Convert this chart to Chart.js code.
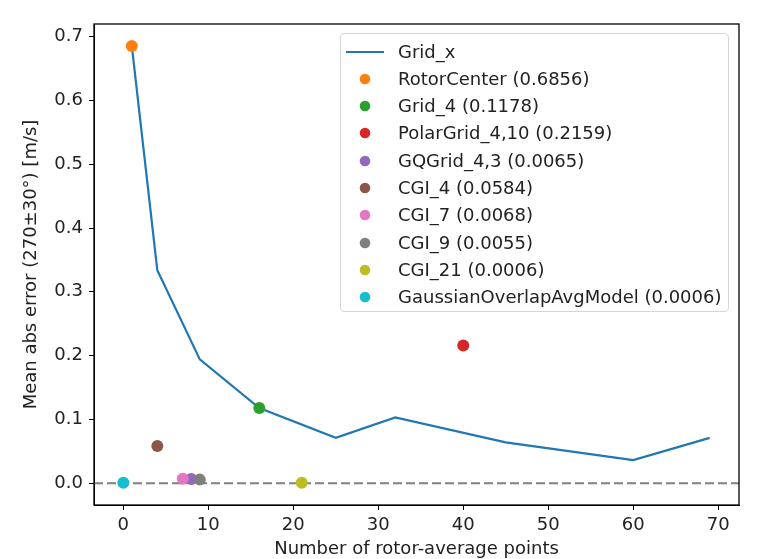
<!DOCTYPE html>
<html>
<head>
<meta charset="utf-8">
<script src="https://cdn.jsdelivr.net/npm/chart.js@4"></script>
<style>
  html, body { margin: 0; padding: 0; background: #fff; }
  #wrap { position: relative; width: 784px; height: 559px; }
  #legend {
    position: absolute; left: 340px; top: 33px; width: 389px; height: 279px;
    box-sizing: border-box; border: 1px solid #d6d6d6; border-radius: 4px;
    background: rgba(255,255,255,0.8);
    font-family: "DejaVu Sans", sans-serif; font-size: 18px; color: #222;
  }
  .row { position: absolute; left: 0; height: 22px; line-height: 22px; white-space: nowrap; }
  .sym { position: absolute; left: 4px; top: 1px; width: 40px; height: 20px; }
  .txt { position: absolute; left: 57px; top: 0; }
</style>
</head>
<body>
<div id="wrap">
  <canvas id="c" width="784" height="559"></canvas>
  <div id="legend"></div>
</div>
<script>
// Grid_x curve
const gridX = [1, 4, 9, 16, 25, 32, 45, 60, 69];
const gridY = [0.6856, 0.334, 0.194, 0.1178, 0.071, 0.103, 0.064, 0.036, 0.071];

// single-point models
const modelNames = ["RotorCenter (0.6856)", "Grid_4 (0.1178)", "PolarGrid_4,10 (0.2159)",
    "GQGrid_4,3 (0.0065)", "CGI_4 (0.0584)", "CGI_7 (0.0068)", "CGI_9 (0.0055)",
    "CGI_21 (0.0006)", "GaussianOverlapAvgModel (0.0006)"];
const modelX = [1, 16, 40, 8, 4, 7, 9, 21, 0];
const modelY = [0.6856, 0.1178, 0.2159, 0.0065, 0.0584, 0.0068, 0.0055, 0.0006, 0.0006];
const modelColors = ["#ff7f0e", "#2ca02c", "#d62728", "#9467bd", "#8c564b",
    "#e377c2", "#7f7f7f", "#bcbd22", "#17becf"];

const xTicks = [0, 10, 20, 30, 40, 50, 60, 70];
const yTicks = [0.0, 0.1, 0.2, 0.3, 0.4, 0.5, 0.6, 0.7];

const font = { family: "DejaVu Sans", size: 18 };

const datasets = [{
    type: 'line',
    label: "Grid_x",
    data: gridX.map((x, i) => ({ x: x, y: gridY[i] })),
    borderColor: "#1f77b4",
    borderWidth: 2.2,
    pointRadius: 0,
    fill: false,
    order: 20
}];
modelNames.forEach((n, i) => {
    datasets.push({
        type: 'scatter',
        label: n,
        data: [{ x: modelX[i], y: modelY[i] }],
        backgroundColor: modelColors[i],
        borderWidth: 0,
        pointRadius: 6,
        order: 10 - i
    });
});

// box around the axes + dashed zero line
const frame = {
    id: 'frame',
    beforeDatasetsDraw(chart) {
        const ctx = chart.ctx, a = chart.chartArea;
        const y0 = chart.scales.y.getPixelForValue(0);
        ctx.save();
        ctx.strokeStyle = "#808080";
        ctx.lineWidth = 2;
        ctx.setLineDash([9, 4]);
        ctx.beginPath();
        ctx.moveTo(a.left, y0);
        ctx.lineTo(a.right, y0);
        ctx.stroke();
        ctx.restore();
    },
    afterDraw(chart) {
        const ctx = chart.ctx, a = chart.chartArea;
        ctx.save();
        ctx.strokeStyle = "#000";
        ctx.lineWidth = 1.3;
        ctx.strokeRect(a.left, a.top, a.right - a.left, a.bottom - a.top);
        ctx.restore();
    }
};

const chart = new Chart(document.getElementById('c').getContext('2d'), {
    data: { datasets: datasets },
    options: {
        responsive: false,
        animation: false,
        layout: { padding: { left: 0, top: 24, right: 45, bottom: 0 } },
        plugins: { legend: { display: false }, tooltip: { enabled: false } },
        scales: {
            x: {
                type: 'linear',
                min: -3.45,
                max: 72.45,
                afterBuildTicks: (s) => { s.ticks = xTicks.map(v => ({ value: v })); },
                afterFit: (s) => { s.height = 54; },
                ticks: { font: font, color: "#222", padding: 5, maxRotation: 0 },
                grid: { drawOnChartArea: false, drawTicks: true, tickLength: 5, color: "#000" },
                border: { display: true, color: "#000" },
                title: { display: true, text: "Number of rotor-average points", font: font, color: "#222", padding: { top: 0, bottom: -1 } }
            },
            y: {
                type: 'linear',
                min: -0.0343,
                max: 0.72,
                afterBuildTicks: (s) => { s.ticks = yTicks.map(v => ({ value: v })); },
                afterFit: (s) => { s.width = 94; },
                ticks: { font: font, color: "#222", padding: 6, callback: (v) => v.toFixed(1) },
                grid: { drawOnChartArea: false, drawTicks: true, tickLength: 5, color: "#000" },
                border: { display: true, color: "#000" },
                title: { display: true, text: "Mean abs error (270±30°) [m/s]", font: font, color: "#222", padding: { top: 21, bottom: 0 } }
            }
        }
    },
    plugins: [frame]
});

// legend drawn from the chart's datasets
const leg = document.getElementById('legend');
chart.data.datasets.forEach((ds, i) => {
    const row = document.createElement('div');
    row.className = 'row';
    row.style.top = (6.5 + i * 27.3) + 'px';
    const sym = document.createElement('canvas');
    sym.className = 'sym';
    sym.width = 40; sym.height = 20;
    const c = sym.getContext('2d');
    if (ds.type === 'line') {
        c.strokeStyle = ds.borderColor; c.lineWidth = 2.2;
        c.beginPath(); c.moveTo(1, 10); c.lineTo(39, 10); c.stroke();
    } else {
        c.fillStyle = ds.backgroundColor;
        c.beginPath(); c.arc(20, 10, 5.3, 0, Math.PI * 2); c.fill();
    }
    const t = document.createElement('span');
    t.className = 'txt';
    t.textContent = ds.label;
    row.appendChild(sym); row.appendChild(t);
    leg.appendChild(row);
});
</script>
</body>
</html>
